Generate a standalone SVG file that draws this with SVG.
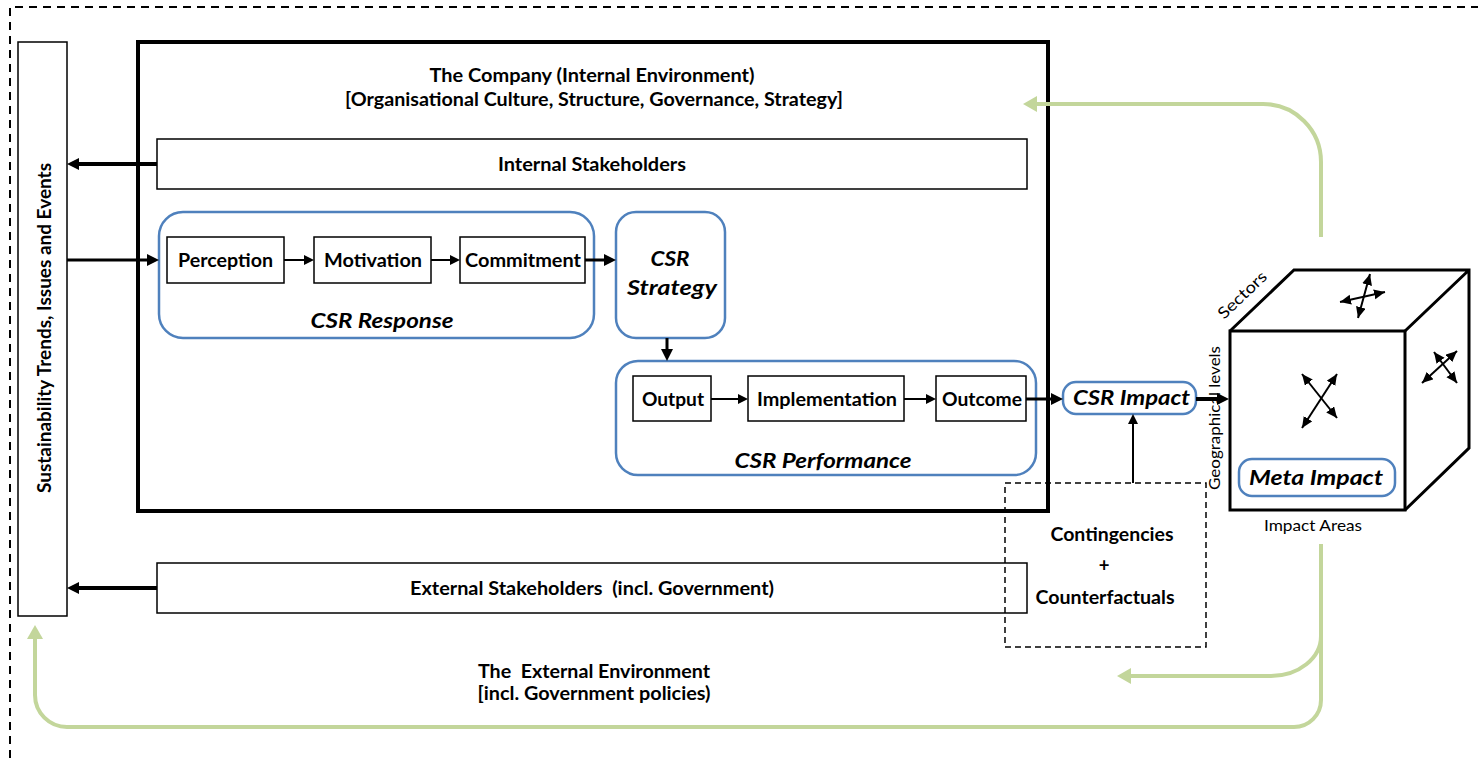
<svg xmlns="http://www.w3.org/2000/svg" width="1478" height="758" viewBox="0 0 1478 758">
  <style>
    text { font-family: Lato, "Liberation Sans", sans-serif; fill: #000; }
    .b { font-weight: bold; font-size: 18.5px; }
    .bi { font-weight: bold; font-style: italic; font-size: 21px; }
    .n { font-size: 16px; }
    .box { fill: #fff; stroke: #000; stroke-width: 1.5; }
    .rbox { fill: #fff; stroke: #4f81bd; stroke-width: 2.5; }
    .thick { stroke: #000; stroke-width: 4; fill: none; marker-end: url(#big); }
    .mid { stroke: #000; stroke-width: 3; fill: none; marker-end: url(#big); }
    .thin { stroke: #000; stroke-width: 2; fill: none; marker-end: url(#small); }
    .dbl { stroke: #000; stroke-width: 2; fill: none; marker-start: url(#dbl); marker-end: url(#dbl); }
    .green { stroke: #c3d69b; stroke-width: 4; fill: none; marker-end: url(#gr); }
    .dash { fill: none; stroke: #000; stroke-width: 1.5; stroke-dasharray: 6 4; }
  </style>
  <defs>
    <marker id="big" markerUnits="userSpaceOnUse" markerWidth="12" markerHeight="12" refX="1" refY="6" orient="auto">
      <path d="M0,0 L12,6 L0,12 z" fill="#000"/>
    </marker>
    <marker id="small" markerUnits="userSpaceOnUse" markerWidth="10" markerHeight="10" refX="1" refY="5" orient="auto">
      <path d="M0,0 L10,5 L0,10 z" fill="#000"/>
    </marker>
    <marker id="dbl" markerUnits="userSpaceOnUse" markerWidth="11" markerHeight="11" refX="11" refY="5" orient="auto-start-reverse">
      <path d="M0,0 L11,5 L0,10 z" fill="#000"/>
    </marker>
    <marker id="gr" markerUnits="userSpaceOnUse" markerWidth="14" markerHeight="16" refX="2" refY="8" orient="auto">
      <path d="M0,0 L14,8 L0,16 z" fill="#c3d69b"/>
    </marker>
  </defs>

  <rect width="1478" height="758" fill="#fff"/>

  <!-- outer dashed boundary: the external environment -->
  <path id="external-environment" d="M10,758 V7 H1478" fill="none" stroke="#000" stroke-width="2" stroke-dasharray="8 6"/>

  <!-- trends column -->
  <g id="trends">
    <rect class="box" x="18" y="42" width="49" height="574"/>
    <text class="b" font-size="17.5" text-anchor="middle" transform="translate(51,328) rotate(-90)" textLength="330" lengthAdjust="spacingAndGlyphs">Sustainability Trends, Issues and Events</text>
  </g>

  <!-- the company -->
  <g id="company">
    <rect x="138" y="42" width="910" height="469" fill="none" stroke="#000" stroke-width="4"/>
    <text class="b" x="592" y="82" text-anchor="middle" textLength="325" lengthAdjust="spacingAndGlyphs">The Company (Internal Environment)</text>
    <text class="b" x="594" y="106" text-anchor="middle" textLength="498" lengthAdjust="spacingAndGlyphs">[Organisational Culture, Structure, Governance, Strategy]</text>
  </g>

  <g id="internal-stakeholders">
    <rect class="box" x="157" y="139" width="870" height="50"/>
    <text class="b" x="592" y="171" text-anchor="middle" textLength="188" lengthAdjust="spacingAndGlyphs">Internal Stakeholders</text>
  </g>

  <g id="csr-response">
    <rect class="rbox" x="159" y="212" width="435" height="126" rx="24"/>
    <text class="bi" x="382" y="328" text-anchor="middle" textLength="143" lengthAdjust="spacingAndGlyphs">CSR Response</text>
  </g>
  <g id="perception">
    <rect class="box" x="167" y="237" width="117" height="46"/>
    <text class="b" x="225.5" y="267" text-anchor="middle" textLength="95" lengthAdjust="spacingAndGlyphs">Perception</text>
  </g>
  <g id="motivation">
    <rect class="box" x="314" y="237" width="117" height="46"/>
    <text class="b" x="373" y="267" text-anchor="middle" textLength="98" lengthAdjust="spacingAndGlyphs">Motivation</text>
  </g>
  <g id="commitment">
    <rect class="box" x="460" y="237" width="125" height="46"/>
    <text class="b" x="523" y="267" text-anchor="middle" textLength="116" lengthAdjust="spacingAndGlyphs">Commitment</text>
  </g>

  <g id="csr-strategy">
    <rect class="rbox" x="616" y="212" width="109" height="126" rx="20"/>
    <text class="bi" x="670" y="266" text-anchor="middle" textLength="39" lengthAdjust="spacingAndGlyphs">CSR</text>
    <text class="bi" x="672" y="295" text-anchor="middle" textLength="90" lengthAdjust="spacingAndGlyphs">Strategy</text>
  </g>

  <g id="csr-performance">
    <rect class="rbox" x="616" y="361" width="420" height="114" rx="22"/>
    <text class="bi" x="823" y="468" text-anchor="middle" textLength="177" lengthAdjust="spacingAndGlyphs">CSR Performance</text>
  </g>
  <g id="output">
    <rect class="box" x="633" y="376" width="78" height="45"/>
    <text class="b" x="673" y="406" text-anchor="middle" textLength="62" lengthAdjust="spacingAndGlyphs">Output</text>
  </g>
  <g id="implementation">
    <rect class="box" x="748" y="376" width="156" height="45"/>
    <text class="b" x="827" y="406" text-anchor="middle" textLength="140" lengthAdjust="spacingAndGlyphs">Implementation</text>
  </g>
  <g id="outcome">
    <rect class="box" x="936" y="376" width="90" height="45"/>
    <text class="b" x="982" y="406" text-anchor="middle" textLength="80" lengthAdjust="spacingAndGlyphs">Outcome</text>
  </g>

  <g id="csr-impact">
    <rect class="rbox" x="1063" y="382" width="133" height="32" rx="13"/>
    <text class="bi" x="1131.5" y="405" text-anchor="middle" textLength="117" lengthAdjust="spacingAndGlyphs">CSR Impact</text>
  </g>

  <g id="external-stakeholders">
    <rect class="box" x="157" y="563" width="870" height="50"/>
    <text class="b" x="592" y="595" text-anchor="middle" textLength="364" lengthAdjust="spacingAndGlyphs" xml:space="preserve">External Stakeholders  (incl. Government)</text>
  </g>

  <g id="contingencies">
    <rect class="dash" x="1005" y="483" width="201" height="164"/>
    <text class="b" x="1112" y="541" text-anchor="middle" textLength="123" lengthAdjust="spacingAndGlyphs">Contingencies</text>
    <text class="b" x="1104" y="572" text-anchor="middle">+</text>
    <text class="b" x="1105" y="604" text-anchor="middle" textLength="139" lengthAdjust="spacingAndGlyphs">Counterfactuals</text>
  </g>

  <g id="external-label">
    <text class="b" x="594" y="678" text-anchor="middle" textLength="232" lengthAdjust="spacingAndGlyphs" xml:space="preserve">The  External Environment</text>
    <text class="b" x="594" y="700" text-anchor="middle" textLength="233" lengthAdjust="spacingAndGlyphs">[incl. Government policies)</text>
  </g>

  <!-- impact cube -->
  <g id="meta-impact-cube">
    <path d="M1230,331 L1294,270 H1469 V448 L1405,510 M1405,331 L1469,270" fill="#fff" stroke="#000" stroke-width="3" stroke-linejoin="miter"/>
    <rect x="1230" y="331" width="175" height="179" fill="#fff" stroke="#000" stroke-width="3"/>
    <text class="n" text-anchor="middle" transform="translate(1246,299) rotate(-43.6)" textLength="61" lengthAdjust="spacingAndGlyphs">Sectors</text>
    <text class="n" text-anchor="middle" transform="translate(1220,418) rotate(-90)" textLength="144" lengthAdjust="spacingAndGlyphs">Geographical levels</text>
    <text class="n" x="1313" y="531" text-anchor="middle" textLength="98" lengthAdjust="spacingAndGlyphs">Impact Areas</text>
    <line class="dbl" x1="1302" y1="374" x2="1337" y2="418"/>
    <line class="dbl" x1="1337" y1="374" x2="1302" y2="428"/>
    <line class="dbl" x1="1340" y1="302" x2="1385" y2="292"/>
    <line class="dbl" x1="1370" y1="274" x2="1358" y2="318"/>
    <line class="dbl" x1="1422" y1="383" x2="1457" y2="351"/>
    <line class="dbl" x1="1434" y1="352" x2="1457" y2="383"/>
    <g id="meta-impact">
      <rect class="rbox" x="1239" y="459" width="156" height="37" rx="13"/>
      <text class="bi" x="1316" y="485" text-anchor="middle" textLength="134" lengthAdjust="spacingAndGlyphs">Meta Impact</text>
    </g>
  </g>

  <!-- connectors -->
  <g id="connectors">
    <line class="thick" x1="157" y1="164" x2="78" y2="164"/>
    <line class="mid" x1="67" y1="260" x2="148" y2="260"/>
    <line class="thick" x1="157" y1="588" x2="78" y2="588"/>
    <line class="thin" x1="284" y1="260" x2="305" y2="260"/>
    <line class="thin" x1="431" y1="260" x2="451" y2="260"/>
    <line class="mid" x1="585" y1="260" x2="605" y2="260"/>
    <line class="mid" x1="667" y1="338" x2="667" y2="350"/>
    <line class="thin" x1="711" y1="399" x2="739" y2="399"/>
    <line class="thin" x1="904" y1="399" x2="927" y2="399"/>
    <line class="mid" x1="1026" y1="399" x2="1052" y2="399"/>
    <line class="thick" x1="1196" y1="399" x2="1218" y2="399"/>
    <line class="thin" x1="1133" y1="483" x2="1133" y2="423"/>
    <path class="green" d="M1321,237 V162 A58,58 0 0 0 1263,104 H1035"/>
    <path class="green" d="M1321,544 V636 A50,40 0 0 1 1271,676 H1129"/>
    <path class="green" d="M1321,544 V700 A27,27 0 0 1 1294,727 H67 A32,32 0 0 1 35,695 V637"/>
  </g>
</svg>
